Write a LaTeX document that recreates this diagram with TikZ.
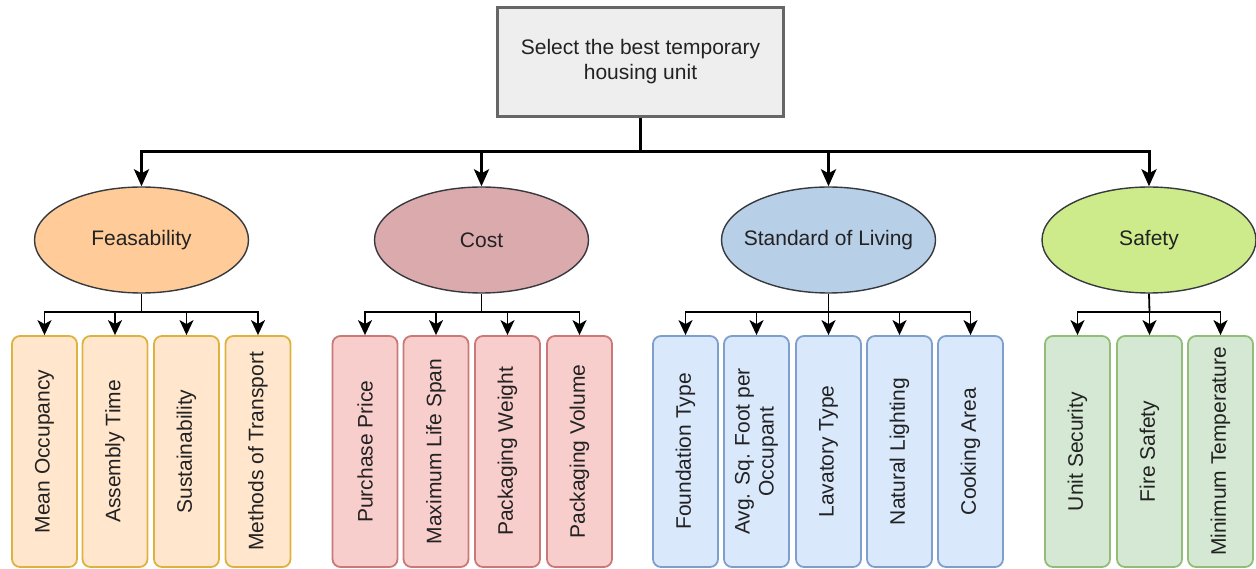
\documentclass[tikz,border=0pt]{standalone}
\usepackage{fontspec}
\setmainfont{Liberation Sans}
\usetikzlibrary{shapes.geometric,arrows.meta}
\definecolor{topfill}{HTML}{EEEEEE}
\definecolor{topdraw}{HTML}{666666}
\definecolor{elldraw}{HTML}{36393D}
\definecolor{feasfill}{HTML}{FFCC99}
\definecolor{costfill}{HTML}{DBAAAD}
\definecolor{stdfill}{HTML}{B8CFE8}
\definecolor{saffill}{HTML}{CDEB8B}
\definecolor{feasleaf}{HTML}{FFE6CC}
\definecolor{feasleafd}{HTML}{DDB340}
\definecolor{costleaf}{HTML}{F8CECC}
\definecolor{costleafd}{HTML}{C97A78}
\definecolor{stdleaf}{HTML}{DAE8FC}
\definecolor{stdleafd}{HTML}{7E9FCB}
\definecolor{safleaf}{HTML}{D5E8D4}
\definecolor{safleafd}{HTML}{91BD78}
\definecolor{txt}{HTML}{222222}
\tikzset{
  lbl/.style={font=\fontsize{21}{25}\selectfont, text=txt},
  topbox/.style={lbl, draw=topdraw, fill=topfill, line width=3pt, minimum width=286, minimum height=109, inner sep=0pt, align=center},
  cat/.style={ellipse, draw=elldraw, line width=1.4pt, minimum width=214, minimum height=106, inner sep=0pt},
  cattext/.style={lbl, inner sep=0pt},
  leaf/.style={draw, line width=1.8pt, rounded corners=8pt, minimum width=65, minimum height=231, inner sep=0pt},
  leaftext/.style={lbl, rotate=90, align=center, font=\fontsize{21}{24}\selectfont},
  mainline/.style={line width=3pt, draw=black},
  mainarrow/.style={mainline, -{Stealth[length=17pt,width=15pt,inset=4pt]}},
  branch/.style={line width=1.8pt, draw=black},
  brarrow/.style={branch, -{Stealth[length=15pt,width=14pt,inset=4pt]}},
}
\begin{document}
\begin{tikzpicture}[x=1pt,y=-1pt]
\useasboundingbox (0,0) rectangle (1256,569);
% top
\node[topbox] (top) at (640.5,62) {Select the best temporary\\housing unit};
\coordinate (hub) at (640.5,152);
% categories
\node[cat, fill=feasfill] (feas) at (141.5,240) {};
\node[cat, fill=costfill] (cost) at (481.5,240) {};
\node[cat, fill=stdfill] (std) at (828.5,240) {};
\node[cat, fill=saffill] (saf) at (1149,240) {};
\node[cattext] (feast) at (feas.center) {Feasability};
\node[cattext] (costt) at (cost.center) {Cost};
\node[cattext] (stdt) at (std.center) {Standard of Living};
\node[cattext] (saft) at (saf.center) {Safety};
\draw[mainline] (top.south) -- (hub);
\draw[mainarrow] (hub) -| (feas.north);
\draw[mainarrow] (hub) -| (cost.north);
\draw[mainarrow] (hub) -| (std.north);
\draw[mainarrow] (hub) -| (saf.north);
% feasability leaves
\node[leaf, draw=feasleafd, fill=feasleaf] (f1) at (44.5,451.5) {};
\node[leaf, draw=feasleafd, fill=feasleaf] (f2) at (115,451.5) {};
\node[leaf, draw=feasleafd, fill=feasleaf] (f3) at (186.5,451.5) {};
\node[leaf, draw=feasleafd, fill=feasleaf] (f4) at (258,451.5) {};
\node[leaftext] (f1t) at (f1) {Mean Occupancy};
\node[leaftext] (f2t) at (f2) {Assembly Time};
\node[leaftext] (f3t) at (f3) {Sustainability};
\node[leaftext] (f4t) at (f4) {Methods of Transport};
\coordinate (fh) at (141.5,312);
\draw[branch] (feas.south) -- (fh);
\foreach \n in {f1,f2,f3,f4} \draw[brarrow] (fh) -| (\n.north);
% cost leaves
\node[leaf, draw=costleafd, fill=costleaf] (c1) at (365,451.5) {};
\node[leaf, draw=costleafd, fill=costleaf] (c2) at (436,451.5) {};
\node[leaf, draw=costleafd, fill=costleaf] (c3) at (507.5,451.5) {};
\node[leaf, draw=costleafd, fill=costleaf] (c4) at (579.5,451.5) {};
\node[leaftext] (c1t) at (c1) {Purchase Price};
\node[leaftext] (c2t) at (c2) {Maximum Life Span};
\node[leaftext] (c3t) at (c3) {Packaging Weight};
\node[leaftext] (c4t) at (c4) {Packaging Volume};
\coordinate (ch) at (481.5,312);
\draw[branch] (cost.south) -- (ch);
\foreach \n in {c1,c2,c3,c4} \draw[brarrow] (ch) -| (\n.north);
% standard leaves
\node[leaf, draw=stdleafd, fill=stdleaf] (s1) at (685.5,451.5) {};
\node[leaf, draw=stdleafd, fill=stdleaf] (s2) at (756.5,451.5) {};
\node[leaf, draw=stdleafd, fill=stdleaf] (s3) at (828.5,451.5) {};
\node[leaf, draw=stdleafd, fill=stdleaf] (s4) at (899.5,451.5) {};
\node[leaf, draw=stdleafd, fill=stdleaf] (s5) at (970.5,451.5) {};
\node[leaftext] (s1t) at (s1) {Foundation Type};
\node[leaftext] (s2t) at (s2) {Avg. Sq. Foot per\\Occupant};
\node[leaftext] (s3t) at (s3) {Lavatory Type};
\node[leaftext] (s4t) at (s4) {Natural Lighting};
\node[leaftext] (s5t) at (s5) {Cooking Area};
\coordinate (sh) at (828.5,312);
\draw[branch] (std.south) -- (sh);
\foreach \n in {s1,s2,s3,s4,s5} \draw[brarrow] (sh) -| (\n.north);
% safety leaves
\node[leaf, draw=safleafd, fill=safleaf] (a1) at (1077.5,451.5) {};
\node[leaf, draw=safleafd, fill=safleaf] (a2) at (1149.5,451.5) {};
\node[leaf, draw=safleafd, fill=safleaf] (a3) at (1220.5,451.5) {};
\node[leaftext] (a1t) at (a1) {Unit Security};
\node[leaftext] (a2t) at (a2) {Fire Safety};
\node[leaftext] (a3t) at (a3) {Minimum Temperature};
\coordinate (ah) at (1149.5,312);
\draw[branch] (saf.south) -- (ah);
\foreach \n in {a1,a2,a3} \draw[brarrow] (ah) -| (\n.north);
\end{tikzpicture}
\end{document}
